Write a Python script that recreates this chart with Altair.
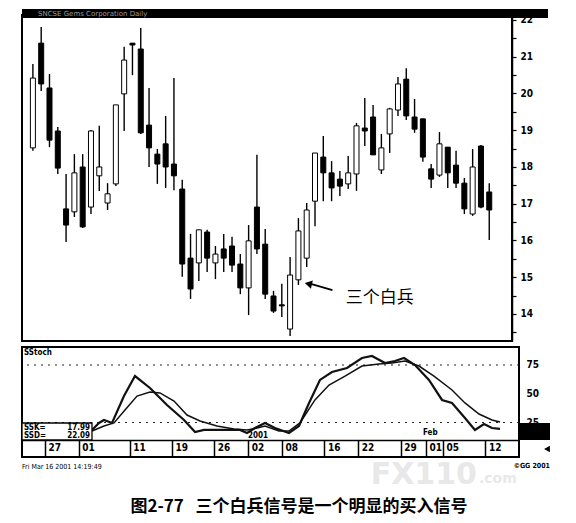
import altair as alt
import pandas as pd

# ---------------- data ----------------
opens  = [18.52, 21.37, 20.15, 18.98, 16.86, 16.78, 18.00, 16.91, 17.76, 17.02,
          17.54, 19.99, 21.37, 21.21, 19.14, 18.35, 18.63, 18.08, 17.40, 15.52,
          15.39, 16.23, 15.39, 15.77, 15.85, 15.36, 14.71, 16.91, 15.90, 14.49,
          14.25, 13.59, 14.93, 15.52, 17.07, 18.27, 17.84, 17.67, 17.54, 17.81,
          19.06, 19.36, 17.92, 18.90, 19.55, 20.39, 19.36, 19.31, 17.95, 17.78,
          18.54, 18.05, 17.56, 16.72, 18.57, 17.32]
highs  = [20.80, 21.81, 20.53, 19.09, 17.81, 18.35, 18.35, 19.01, 19.12, 17.56,
          19.69, 21.27, 21.37, 21.78, 20.15, 18.49, 19.39, 20.42, 17.65, 16.18,
          16.29, 16.29, 15.85, 16.18, 16.10, 15.63, 16.42, 18.33, 16.31, 14.63,
          14.82, 15.55, 16.61, 17.02, 18.38, 18.84, 18.16, 17.89, 18.30, 19.20,
          19.88, 19.69, 18.90, 19.61, 20.45, 20.69, 19.85, 19.31, 18.08, 18.95,
          18.54, 18.44, 17.70, 18.49, 18.60, 17.56]
lows   = [18.44, 20.07, 18.54, 17.81, 15.96, 16.64, 16.34, 16.72, 17.35, 16.83,
          17.48, 18.98, 20.50, 18.90, 18.00, 17.54, 17.43, 17.37, 15.01, 14.41,
          14.90, 15.14, 14.95, 15.14, 15.14, 14.54, 13.97, 15.63, 14.41, 14.03,
          13.92, 13.40, 14.79, 15.28, 16.39, 17.07, 17.07, 17.21, 17.40, 17.35,
          18.57, 18.33, 17.81, 18.38, 19.39, 19.28, 18.93, 18.14, 17.43, 17.73,
          17.43, 17.43, 16.72, 16.67, 16.88, 16.01]
closes = [20.42, 20.26, 18.73, 17.97, 16.42, 17.84, 16.37, 18.98, 18.00, 17.27,
          19.69, 20.91, 21.32, 18.93, 18.52, 18.08, 18.00, 17.76, 15.36, 14.68,
          16.29, 15.52, 15.63, 15.52, 15.33, 14.71, 15.99, 15.77, 14.54, 14.08,
          14.22, 15.06, 16.26, 16.83, 18.38, 17.84, 17.43, 17.48, 17.84, 19.12,
          18.98, 18.33, 18.52, 19.58, 20.26, 19.39, 19.03, 18.27, 17.67, 18.63,
          17.84, 17.56, 16.86, 18.00, 16.91, 16.83]

# Stochastic %K (fast line) and %D (slow line): bar position, value
k_pos = [7.56, 8.38, 8.97, 9.92, 11.33, 12.63, 14.40, 16.41, 18.42, 19.72,
         20.78, 22.31, 23.85, 25.03, 25.86, 26.80, 27.98, 29.16, 30.81, 31.99,
         33.18, 34.47, 35.89, 37.66, 39.43, 40.61, 42.15, 43.33, 44.39, 45.69,
         47.34, 48.88, 50.06, 51.59, 52.77, 53.84, 54.78, 55.73]
k_val = [18.5, 24.6, 27.2, 24.6, 48.0, 65.4, 55.0, 40.2, 27.2, 16.7,
         18.5, 18.5, 18.5, 18.5, 15.9, 20.2, 24.6, 20.2, 15.9, 22.0,
         42.0, 62.0, 68.9, 72.4, 81.1, 82.8, 76.7, 78.5, 81.1, 75.0,
         62.0, 44.6, 42.0, 28.9, 18.5, 23.7, 20.2, 19.5]
d_pos = [7.56, 8.97, 10.15, 11.45, 12.87, 14.40, 15.58, 17.24, 18.77, 20.31,
         22.31, 24.32, 25.86, 27.04, 27.98, 29.63, 30.81, 32.11, 33.88, 35.54,
         37.43, 39.43, 41.44, 42.98, 44.51, 46.16, 47.93, 50.06, 51.59, 53.25,
         54.78, 55.73]
d_val = [17.6, 22.0, 24.6, 35.9, 48.0, 51.5, 50.7, 43.7, 31.5, 26.3,
         22.0, 19.3, 18.5, 20.2, 22.0, 17.6, 17.6, 24.6, 44.6, 57.6,
         65.4, 74.1, 75.9, 76.7, 78.5, 74.1, 65.4, 53.3, 42.0, 32.4,
         27.2, 25.4]

date_ticks  = [2, 6, 12, 17, 22, 26, 30, 35, 39, 44, 47, 49, 54]
date_labels = ["27", "01", "11", "19", "26", "02", "08", "16", "22", "29", "01", "05", "12"]
price_ticks = [13.5, 14, 14.5, 15, 15.5, 16, 16.5, 17, 17.5, 18, 18.5,
               19, 19.5, 20, 20.5, 21, 21.5, 22]
stoch_ticks = [25, 50, 75]
stoch_levels = [25, 75]

NARROW = "DejaVu Sans Condensed, Liberation Sans Narrow, sans-serif"
CJK = "Noto Sans CJK SC"

cdf = pd.DataFrame({"i": list(range(len(opens))), "open": opens, "high": highs,
                    "low": lows, "close": closes})
cdf["dir"] = ["up" if c > o else "down" for o, c in zip(opens, closes)]


def label(text, x, y, **kw):
    return alt.Chart(pd.DataFrame({"t": [text]})).mark_text(**kw).encode(
        x=alt.value(x), y=alt.value(y), text="t:N")


def box(x, x2, y, y2, **kw):
    return alt.Chart(pd.DataFrame({"a": [0]})).mark_rect(**kw).encode(
        x=alt.value(x), x2=alt.value(x2), y=alt.value(y), y2=alt.value(y2))


# ---------------- main candlestick panel ----------------
W1, H1 = 490, 326
xs1 = alt.Scale(domain=[-0.71, 57.14], nice=False, zero=False)
ys1 = alt.Scale(domain=[13.265, 22.136], nice=False, zero=False)
price_axis = alt.Axis(orient="right", values=price_ticks,
                      labelExpr="datum.value % 1 === 0 ? format(datum.value, 'd') : ''",
                      tickSize=4, tickColor="black", tickWidth=1.2,
                      domainColor="black", domainWidth=1.5, grid=False,
                      labelFont=NARROW, labelFontSize=10, labelFontWeight="bold",
                      labelColor="black", labelPadding=4, title=None)

base = alt.Chart(cdf)
wicks = base.mark_rule(color="black", strokeWidth=1.4).encode(
    x=alt.X("i:Q", scale=xs1, axis=None),
    y=alt.Y("low:Q", scale=ys1, axis=price_axis),
    y2="high:Q",
)
bodies = base.mark_bar(size=5, stroke="black", strokeWidth=1).encode(
    x=alt.X("i:Q", scale=xs1, axis=None),
    y=alt.Y("open:Q", scale=ys1, axis=price_axis),
    y2="close:Q",
    fill=alt.Fill("dir:N", scale=alt.Scale(domain=["up", "down"], range=["white", "black"]),
                  legend=None),
)

ann = pd.DataFrame({"i": [41.8], "p": [14.44], "t": ["三个白兵"]})
ann_text = alt.Chart(ann).mark_text(font=CJK, fontSize=17, color="black",
                                    align="center", baseline="middle").encode(
    x=alt.X("i:Q", scale=xs1, axis=None), y=alt.Y("p:Q", scale=ys1, axis=price_axis),
    text="t:N")
arrow_df = pd.DataFrame({"i": [36.1], "p": [14.65], "i2": [33.6], "p2": [14.81]})
arrow_line = alt.Chart(arrow_df).mark_rule(color="black", strokeWidth=1.8).encode(
    x=alt.X("i:Q", scale=xs1, axis=None), y=alt.Y("p:Q", scale=ys1, axis=price_axis),
    x2="i2:Q", y2="p2:Q")
head_df = pd.DataFrame({"i": [33.2], "p": [14.82]})
arrow_head = alt.Chart(head_df).mark_point(shape="triangle-left", filled=True, color="black",
                                           size=70, angle=13, opacity=1).encode(
    x=alt.X("i:Q", scale=xs1, axis=None), y=alt.Y("p:Q", scale=ys1, axis=price_axis))

top_bar = box(0, 526, -6, 3, fill="black")
top_text = label("SNCSE  Gems Corporation  Daily", 16, -1, fontSize=7, color="#9a9a9a",
                 align="left", baseline="middle", font="DejaVu Sans")

main = alt.layer(wicks, bodies, ann_text, arrow_line, arrow_head, top_bar, top_text).properties(
    width=W1, height=H1)

# ---------------- stochastic panel ----------------
W2, H2 = 497, 110
xs2 = alt.Scale(domain=[-0.71, 57.97], nice=False, zero=False)
ys2 = alt.Scale(domain=[-5.0, 90.65], nice=False, zero=False)

label_arr = [""] * 60
for t, l in zip(date_ticks, date_labels):
    label_arr[t] = l
label_expr = "[" + ",".join("'" + s + "'" for s in label_arr) + "][datum.value]"

stoch_axis = alt.Axis(orient="right", values=stoch_ticks, tickSize=0, domain=False,
                      grid=False, labelFont=NARROW, labelFontSize=10,
                      labelFontWeight="bold", labelColor="black", labelPadding=7, title=None)
date_axis = alt.Axis(orient="bottom", offset=-17, values=date_ticks, labelExpr=label_expr,
                     tickSize=17, tickColor="black", tickWidth=1.5,
                     domainColor="black", domainWidth=1.5, grid=False,
                     labelAlign="left", labelOffset=3, labelPadding=-15, labelBaseline="top",
                     labelFont=NARROW, labelFontSize=10, labelFontWeight="bold",
                     labelColor="black", title=None)

lv = pd.DataFrame({"lvl": stoch_levels})
levels = alt.Chart(lv).mark_rule(strokeDash=[2, 5], color="#222", strokeWidth=1).encode(
    y=alt.Y("lvl:Q", scale=ys2, axis=stoch_axis),
)
kdf = pd.DataFrame({"i": k_pos, "v": k_val})
ddf = pd.DataFrame({"i": d_pos, "v": d_val})
k_line = alt.Chart(kdf).mark_line(color="#111", strokeWidth=2.2).encode(
    x=alt.X("i:Q", scale=xs2, axis=date_axis),
    y=alt.Y("v:Q", scale=ys2, axis=stoch_axis),
)
d_line = alt.Chart(ddf).mark_line(color="#111", strokeWidth=1.5).encode(
    x=alt.X("i:Q", scale=xs2, axis=date_axis),
    y=alt.Y("v:Q", scale=ys2, axis=stoch_axis),
)

sbox = box(0, 70, 76, 93, fill="white", stroke="black", strokeWidth=1.3)
txt_kw = dict(font=NARROW, fontSize=8, fontWeight="bold", color="black", baseline="middle")
ssk = label("SSK=", 2, 81, align="left", **txt_kw)
ssk_v = label("17.99", 68, 81, align="right", **txt_kw)
ssd = label("SSD=", 2, 89, align="left", **txt_kw)
ssd_v = label("22.09", 68, 89, align="right", **txt_kw)
stoch_name = label("SStoch", 2, 6, align="left", **txt_kw)
yr = label("2001", 226, 89, align="left", **txt_kw)
feb = label("Feb", 401, 86, align="left", **txt_kw)
rbox = box(497, 528, 76, 93, fill="black")
rarrow = alt.Chart(pd.DataFrame({"a": [0]})).mark_point(
    shape="triangle-left", filled=True, color="black", size=45, opacity=1).encode(
    x=alt.value(525), y=alt.value(102))
wm1 = label("FX110", 455, 137, align="right", baseline="alphabetic", font="DejaVu Sans",
            fontSize=30, fontWeight="bold", color="#e8e8e8")
wm2 = label(".com", 457, 136, align="left", baseline="alphabetic", font="DejaVu Sans",
            fontSize=14, fontWeight="bold", color="#e8e8e8")
stamp = label("Fri Mar 16 2001 14:19:49", 0, 120, align="left", baseline="middle",
              font=NARROW, fontSize=7, color="black")
copy = label("©GG 2001", 528, 119, align="right", baseline="middle",
             font=NARROW, fontSize=7, fontWeight="bold", color="black")
caption = label("图2-77\u00a0\u00a0\u00a0三个白兵信号是一个明显的买入信号", 277, 160, align="center",
                baseline="middle", font=CJK, fontSize=17, fontWeight="bold", color="black")

stoch = alt.layer(wm1, wm2, levels, k_line, d_line, sbox, ssk, ssk_v, ssd, ssd_v, stoch_name,
                  yr, feb, rbox, rarrow, stamp, copy, caption).properties(width=W2, height=H2)

chart = alt.vconcat(main, stoch, spacing=4).properties(
    padding={"left": 12, "top": 0, "right": 2, "bottom": 2}
).configure_view(stroke="black", strokeWidth=2)

chart.save("out.html", embed_options={"renderer": "svg", "actions": False})
